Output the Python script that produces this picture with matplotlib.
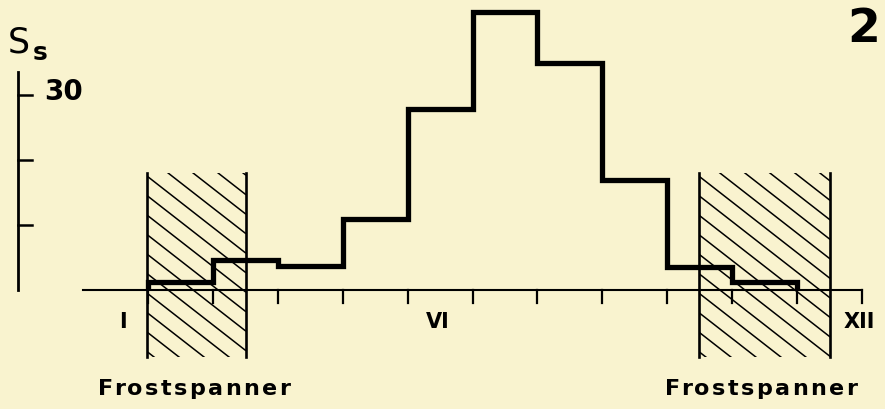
import numpy as np
import matplotlib
matplotlib.use("Agg")
import matplotlib.pyplot as plt
from matplotlib.patches import Rectangle

# ----------------------------
# DATA
# ----------------------------
month_edges = [1, 2, 3, 4, 5, 6, 7, 8, 9, 10, 11]
ss_values = [1.2, 4.6, 3.7, 10.9, 27.8, 42.7, 34.9, 16.9, 3.6, 1.2]
month_ticks = list(range(1, 13))
month_labels = ["I", "VI", "XII"]
month_label_pos = [0.62, 5.47, 11.95]
y_ticks = [10, 20, 30]
frost_spans = [(0.99, 2.51), (9.49, 11.51)]
frost_label = "Frostspanner"

# ----------------------------
# LAYOUT
# ----------------------------
W, H = 885, 409
BG = "#f9f3cf"
PX_X = 64.92   # pixels per month
PX_Y = 6.5     # pixels per unit
X0, Y0 = 83, 290  # pixel position of origin (from top-left)

fig = plt.figure(figsize=(W / 100, H / 100), dpi=100, facecolor=BG)
ax = fig.add_axes([0, 0, 1, 1])
ax.set_facecolor(BG)
ax.axis("off")
ax.set_xlim(-X0 / PX_X, (W - X0) / PX_X)
ax.set_ylim(-(H - Y0) / PX_Y, Y0 / PX_Y)

# frost periods: vertical sides + diagonal hatching
hatch_top, hatch_bot = 18.0, -10.3
first_line = 17.5
slope = 0.78 * PX_X / PX_Y          # units per month
step_v = 19.5 / PX_Y
for x_a, x_b in frost_spans:
    clip = Rectangle((x_a, hatch_bot), x_b - x_a, hatch_top - hatch_bot,
                     transform=ax.transData, visible=False)
    ax.add_patch(clip)
    for i in range(-6, 12):
        y_start = first_line - i * step_v
        xs = np.array([x_a, x_b])
        ys = y_start - slope * (xs - x_a)
        ln, = ax.plot(xs, ys, color="black", lw=1.1, solid_capstyle="butt")
        ln.set_clip_path(clip)
    for xv in (x_a, x_b):
        ax.plot([xv, xv], [hatch_bot, hatch_top], color="black", lw=1.9)

# axes
ax.plot([0, 12], [0, 0], color="black", lw=1.5, clip_on=False)
for m in month_ticks:
    ax.plot([m, m], [0, -2.0], color="black", lw=1.6)
ax.plot([-1, -1], [0, 33.5], color="black", lw=2.0)
for yt in y_ticks:
    ax.plot([-1, -0.78], [yt, yt], color="black", lw=1.8)

# stepped curve
ax.stairs(ss_values, month_edges, baseline=0, color="black", lw=3.8, zorder=5)

# labels
font = "DejaVu Sans"
for lab, xp in zip(month_labels, month_label_pos):
    ax.text(xp, -5.0, lab, ha="center", va="center", fontsize=15,
            fontweight="bold", family=font)
ax.text(-0.6, 30.5, "30", ha="left", va="center", fontsize=20,
        fontweight="bold", family=font)
ax.text(-1.16, 36.6, "S", ha="left", va="baseline", fontsize=25, family=font)
ax.text(-0.77, 35.4, "s", ha="left", va="baseline", fontsize=18,
        fontweight="bold", family=font)
fig.text(880 / W, 1 - 7 / H, "2", ha="right", va="top", fontsize=34,
         fontweight="bold", family=font)


def spaced_text(x_left, x_right, y_base, s, **kw):
    # letter-spaced text: natural positions plus an even extra gap
    r = fig.canvas.get_renderer()

    def width(txt):
        t = fig.text(0, 0, txt, **kw)
        w = t.get_window_extent(renderer=r).width
        t.remove()
        return w

    lefts = [0.0] + [width(s[:k + 1]) - width(s[k]) for k in range(1, len(s))]
    gap = (x_right - x_left - width(s)) / (len(s) - 1)
    for k, ch in enumerate(s):
        x = x_left + lefts[k] + k * gap
        fig.text(x / W, 1 - y_base / H, ch, ha="left", va="baseline", **kw)


spaced_text(98, 290, 395, frost_label, fontsize=16, fontweight="bold", family=font)
spaced_text(665, 857, 395, frost_label, fontsize=16, fontweight="bold", family=font)

fig.savefig("out.png", dpi=100, facecolor=BG)
